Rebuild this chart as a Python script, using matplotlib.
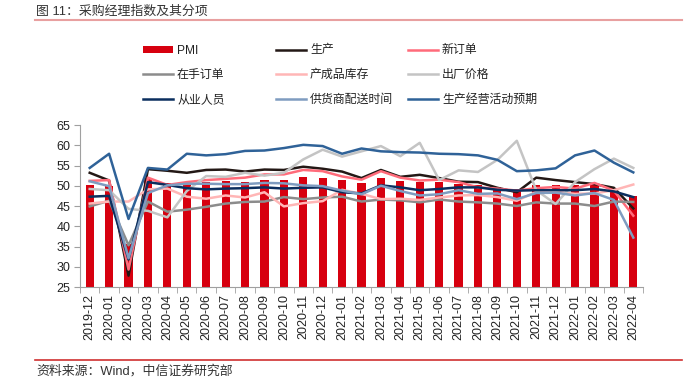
import matplotlib
matplotlib.use("Agg")
import matplotlib.pyplot as plt
from matplotlib.lines import Line2D
from matplotlib.patches import Patch
import numpy as np

plt.rcParams['font.family'] = ['Liberation Sans', 'Noto Sans CJK SC', 'DejaVu Sans']

months = ["2019-12", "2020-01", "2020-02", "2020-03", "2020-04", "2020-05", "2020-06",
          "2020-07", "2020-08", "2020-09", "2020-10", "2020-11", "2020-12", "2021-01",
          "2021-02", "2021-03", "2021-04", "2021-05", "2021-06", "2021-07", "2021-08",
          "2021-09", "2021-10", "2021-11", "2021-12", "2022-01", "2022-02", "2022-03",
          "2022-04"]

pmi = [50.2, 50.0, 35.7, 52.0, 50.8, 50.6, 50.9, 51.1, 51.0, 51.5, 51.4, 52.1, 51.9, 51.3,
       50.6, 51.9, 51.1, 51.0, 50.9, 50.4, 50.1, 49.6, 49.2, 50.1, 50.3, 50.1, 50.2, 49.5, 47.4]
production = [53.2, 51.3, 27.8, 54.1, 53.7, 53.2, 53.9, 54.0, 53.5, 54.0, 53.9, 54.7, 54.2, 53.5,
              51.9, 53.9, 52.2, 52.7, 51.9, 51.0, 50.9, 49.5, 48.4, 52.0, 51.4, 50.9, 50.4, 49.5, 44.4]
new_orders = [51.2, 51.4, 29.3, 52.0, 50.2, 50.9, 51.4, 51.7, 52.0, 52.8, 52.8, 53.9, 53.6, 52.3,
              51.5, 53.6, 52.0, 51.3, 51.5, 50.9, 49.6, 49.3, 48.8, 49.4, 49.7, 49.3, 50.7, 48.8, 42.6]
backlog = [44.9, 46.3, 35.3, 46.1, 43.6, 44.1, 44.8, 45.6, 46.0, 46.1, 47.2, 46.7, 47.1, 47.3,
           46.1, 46.6, 46.4, 45.9, 46.6, 46.1, 45.9, 45.6, 45.0, 45.9, 45.6, 45.6, 45.0, 46.1, 46.0]
inventory = [45.6, 46.1, 46.1, 49.1, 49.3, 47.3, 46.8, 47.6, 47.1, 48.4, 44.9, 45.7, 46.2, 49.0,
             48.0, 46.7, 46.8, 46.5, 47.1, 47.6, 47.7, 47.2, 46.3, 48.5, 48.5, 48.0, 48.1, 48.9, 50.3]
price = [49.2, 48.9, 44.3, 43.8, 42.2, 48.7, 52.4, 52.2, 53.2, 52.5, 53.2, 56.5, 58.9, 57.2,
         58.5, 59.8, 57.3, 60.6, 51.4, 53.8, 53.4, 56.4, 61.1, 48.9, 45.5, 50.9, 54.1, 56.7, 54.4]
employment = [47.3, 47.5, 31.8, 50.9, 50.2, 49.4, 49.1, 49.3, 49.4, 49.6, 49.3, 49.5, 49.6, 48.4,
              48.1, 50.1, 49.6, 48.9, 49.2, 49.6, 49.6, 49.0, 48.8, 48.9, 48.9, 48.9, 49.2, 48.6, 47.2]
delivery = [51.1, 49.9, 32.1, 48.2, 50.1, 50.5, 50.5, 50.4, 50.4, 50.7, 50.6, 50.1, 49.9, 48.8,
            47.9, 50.0, 48.7, 47.6, 47.9, 48.9, 48.0, 48.1, 46.7, 48.2, 48.3, 47.6, 48.2, 46.5, 37.2]
expectation = [54.4, 57.9, 41.8, 54.4, 54.0, 57.9, 57.5, 57.8, 58.6, 58.7, 59.3, 60.1, 59.8, 57.9,
               59.2, 58.5, 58.3, 58.2, 57.9, 57.8, 57.5, 56.4, 53.6, 53.8, 54.3, 57.5, 58.7, 55.7, 53.3]

names = ["PMI", "生产", "新订单", "在手订单", "产成品库存", "出厂价格",
         "从业人员", "供货商配送时间", "生产经营活动预期"]
yticks = [25, 30, 35, 40, 45, 50, 55, 60, 65]

bar_color = "#D7000F"
line_series = [production, new_orders, backlog, inventory, price, employment, delivery, expectation]
line_colors = ["#231815", "#FF6B7A", "#8C8C8C", "#FFB6B6", "#C4C4C4", "#0B2E5E", "#7F9CC0", "#2F6298"]

fig = plt.figure(figsize=(6.98, 3.82), dpi=100)
ax = fig.add_axes([80/698, 1-287/382, (643-80)/698, (287-125)/382])

x = np.arange(len(months))
ax.bar(x, pmi, width=0.42, color=bar_color, zorder=2)
for s, c in zip(line_series, line_colors):
    ax.plot(x, s, color=c, lw=1.8, zorder=3, solid_joinstyle='round')

ax.set_xlim(-0.5, len(months) - 0.5)
ax.set_ylim(25, 65)
ax.set_yticks(yticks)
ax.set_yticklabels([str(v) for v in yticks], fontsize=9, color="#222222")
ax.set_xticks(x)
ax.set_xticklabels(months, rotation=90, fontsize=9, color="#222222")
ax.set_xticks(np.arange(-0.5, len(months), 1), minor=True)
ax.tick_params(axis='x', which='major', length=0, pad=5)
ax.tick_params(axis='x', which='minor', length=4, color="#A0A0A0", direction='out')
ax.tick_params(axis='y', length=4, color="#A0A0A0", direction='out', pad=3)
for sp in ['top', 'right']:
    ax.spines[sp].set_visible(False)
for sp in ['left', 'bottom']:
    ax.spines[sp].set_color("#A0A0A0")
    ax.spines[sp].set_linewidth(0.8)

# legend handles
handles = [Patch(facecolor=bar_color, edgecolor='none')] + \
          [Line2D([0], [0], color=c, lw=1.8) for c in line_colors]
cols_x = [143, 276, 408]
for ci in range(3):
    idx = [ci, ci + 3, ci + 6]
    leg = fig.legend([handles[i] for i in idx], [names[i] for i in idx],
                     loc='upper left', bbox_to_anchor=(cols_x[ci]/698, 1-44.5/382),
                     frameon=False, fontsize=8.6, handlelength=2.55, handleheight=0.55,
                     handletextpad=0.3, labelspacing=1.06, borderpad=0, borderaxespad=0)
    for t in leg.get_texts():
        t.set_color("#222222")

# title and source
fig.text(36/698, 1-12/382, "图 11：采购经理指数及其分项", fontsize=9.3, color="#333333",
         va='center', ha='left')
fig.add_artist(Line2D([35/698, 682/698], [1-20/382, 1-20/382], color="#E8A0A0", lw=1.5))
fig.add_artist(Line2D([35/698, 682/698], [1-360/382, 1-360/382], color="#D03030", lw=1.2))
fig.text(36/698, 1-371/382, "资料来源：Wind，中信证券研究部", fontsize=9.3, color="#333333",
         va='center', ha='left')

fig.savefig("out.png", dpi=100)
